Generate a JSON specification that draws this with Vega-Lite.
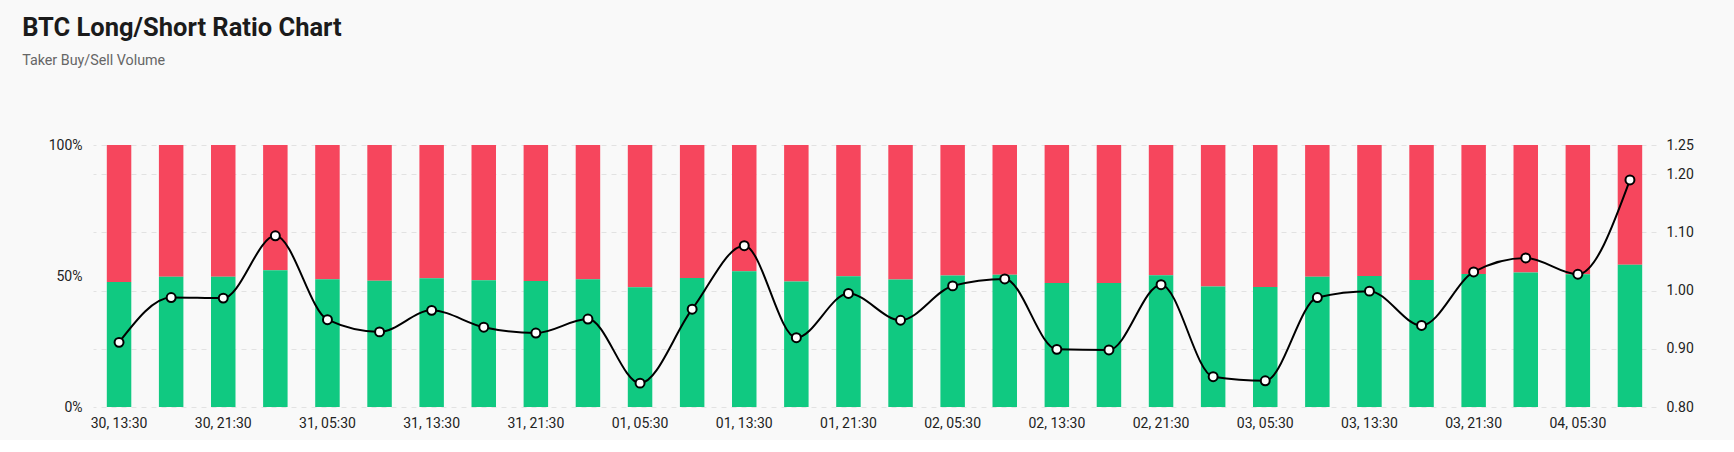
{
  "$schema": "https://vega.github.io/schema/vega-lite/v6.json",
  "width": 1563,
  "height": 262,
  "autosize": {"type": "pad"},
  "padding": {"left": 22, "top": 16, "right": 40, "bottom": 10},
  "background": "#f9f9f9",
  "config": {"view": {"stroke": null}},
  "title": {
    "text": "BTC Long/Short Ratio Chart",
    "subtitle": "Taker Buy/Sell Volume",
    "anchor": "start",
    "frame": "bounds",
    "offset": 70,
    "font": "Roboto",
    "fontSize": 25.5,
    "fontWeight": "bold",
    "color": "#1b1b1b",
    "subtitleFont": "Roboto",
    "subtitleFontSize": 14.3,
    "subtitleColor": "#666666",
    "subtitlePadding": 12
  },
  "data": {
    "values": [
      {"t": "30, 13:30", "long": 0.4767, "ratio": 0.911},
      {"t": "30, 17:30", "long": 0.4970, "ratio": 0.988},
      {"t": "30, 21:30", "long": 0.4967, "ratio": 0.987},
      {"t": "31, 01:30", "long": 0.5224, "ratio": 1.094},
      {"t": "31, 05:30", "long": 0.4872, "ratio": 0.950},
      {"t": "31, 09:30", "long": 0.4816, "ratio": 0.929},
      {"t": "31, 13:30", "long": 0.4914, "ratio": 0.966},
      {"t": "31, 17:30", "long": 0.4837, "ratio": 0.937},
      {"t": "31, 21:30", "long": 0.4811, "ratio": 0.927},
      {"t": "01, 01:30", "long": 0.4874, "ratio": 0.951},
      {"t": "01, 05:30", "long": 0.4568, "ratio": 0.841},
      {"t": "01, 09:30", "long": 0.4919, "ratio": 0.968},
      {"t": "01, 13:30", "long": 0.5185, "ratio": 1.077},
      {"t": "01, 17:30", "long": 0.4789, "ratio": 0.919},
      {"t": "01, 21:30", "long": 0.4987, "ratio": 0.995},
      {"t": "02, 01:30", "long": 0.4869, "ratio": 0.949},
      {"t": "02, 05:30", "long": 0.5020, "ratio": 1.008},
      {"t": "02, 09:30", "long": 0.5050, "ratio": 1.020},
      {"t": "02, 13:30", "long": 0.4734, "ratio": 0.899},
      {"t": "02, 17:30", "long": 0.4731, "ratio": 0.898},
      {"t": "02, 21:30", "long": 0.5025, "ratio": 1.010},
      {"t": "03, 01:30", "long": 0.4600, "ratio": 0.852},
      {"t": "03, 05:30", "long": 0.4580, "ratio": 0.845},
      {"t": "03, 09:30", "long": 0.4970, "ratio": 0.988},
      {"t": "03, 13:30", "long": 0.4997, "ratio": 0.999},
      {"t": "03, 17:30", "long": 0.4845, "ratio": 0.940},
      {"t": "03, 21:30", "long": 0.5079, "ratio": 1.032},
      {"t": "04, 01:30", "long": 0.5136, "ratio": 1.056},
      {"t": "04, 05:30", "long": 0.5069, "ratio": 1.028},
      {"t": "04, 09:30", "long": 0.5434, "ratio": 1.190}
    ]
  },
  "encoding": {
    "x": {
      "field": "t",
      "type": "ordinal",
      "sort": null,
      "scale": {"paddingInner": 0.53, "paddingOuter": 0.265},
      "axis": {
        "title": null,
        "labelAngle": 0,
        "domain": false,
        "ticks": false,
        "labelPadding": 9,
        "labelFont": "Roboto",
        "labelFontSize": 14,
        "labelColor": "#222222",
        "values": ["30, 13:30", "30, 21:30", "31, 05:30", "31, 13:30", "31, 21:30", "01, 05:30", "01, 13:30", "01, 21:30", "02, 05:30", "02, 13:30", "02, 21:30", "03, 05:30", "03, 13:30", "03, 21:30", "04, 05:30"]
      }
    }
  },
  "layer": [
    {
      "layer": [
        {
          "mark": {"type": "bar", "color": "#F6465D"},
          "encoding": {
            "y": {
              "field": "long",
              "type": "quantitative",
              "scale": {"domain": [0, 1], "nice": false},
              "axis": {
                "orient": "left",
                "title": ".",
                "titleColor": "transparent",
                "titleFontSize": 14,
                "titlePadding": 12,
                "values": [0, 0.5, 1],
                "format": ".0%",
                "grid": false,
                "domain": false,
                "ticks": false,
                "labelPadding": 11,
                "labelFont": "Roboto",
                "labelFontSize": 14,
                "labelColor": "#222222"
              }
            },
            "y2": {"datum": 1}
          }
        },
        {
          "mark": {"type": "bar", "color": "#10C981"},
          "encoding": {
            "y": {
              "field": "long",
              "type": "quantitative",
              "scale": {"domain": [0, 1], "nice": false}
            }
          }
        }
      ]
    },
    {
      "layer": [
        {
          "mark": {"type": "line", "interpolate": "monotone", "color": "#000000", "strokeWidth": 2},
          "encoding": {
            "y": {
              "field": "ratio",
              "type": "quantitative",
              "scale": {"domain": [0.8, 1.25], "nice": false, "zero": false},
              "axis": {
                "orient": "right",
                "title": null,
                "values": [0.8, 0.9, 1.0, 1.1, 1.2, 1.25],
                "format": ".2f",
                "grid": true,
                "gridDash": [5, 5],
                "gridColor": "#e2e2e2",
                "gridWidth": 1,
                "domain": false,
                "ticks": false,
                "labelPadding": 10,
                "labelFont": "Roboto",
                "labelFontSize": 14,
                "labelColor": "#222222"
              }
            }
          }
        },
        {
          "mark": {"type": "point", "filled": true, "fill": "#ffffff", "stroke": "#000000", "strokeWidth": 2, "size": 80, "opacity": 1},
          "encoding": {
            "y": {"field": "ratio", "type": "quantitative", "scale": {"domain": [0.8, 1.25], "nice": false, "zero": false}}
          }
        }
      ]
    }
  ],
  "resolve": {"scale": {"y": "independent"}}
}
